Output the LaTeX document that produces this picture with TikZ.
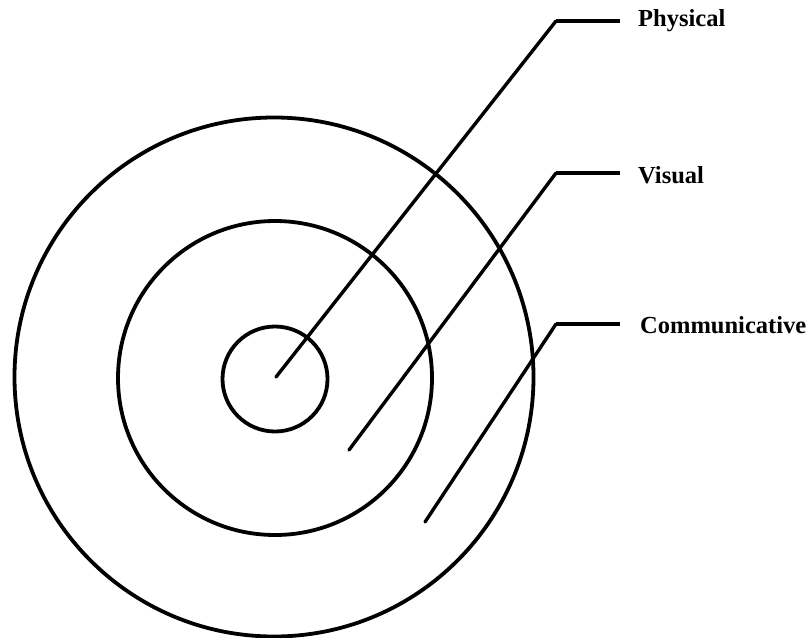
\documentclass[tikz,border=0pt]{standalone}
\usepackage{fontspec}
\setmainfont{Liberation Serif}
\usepackage{xcolor}
\usetikzlibrary{positioning}
\definecolor{ringInk}{RGB}{0,0,0}
\tikzset{
  ring/.style={draw=ringInk, line width=3.8pt},
  leader/.style={draw=ringInk, line width=3.4pt, line cap=round},
  shelf/.style={draw=ringInk, line width=4.6pt},
  tag/.style={text=ringInk, anchor=base west, inner sep=0pt, font=\fontsize{24.5}{29}\selectfont\bfseries}
}
\begin{document}
\begin{tikzpicture}[x=1pt,y=-1pt]
\useasboundingbox (0,0) rectangle (808,637);
\coordinate (centre) at (274,377);
\draw[ring] (centre) circle[radius=259.5pt];
\draw[ring] (275,378) circle[radius=157pt];
\draw[ring] (275,379) circle[radius=52.5pt];
\coordinate (physEnd) at (276,377);
\coordinate (physBend) at (556,21);
\coordinate (physTip) at (620,21);
\node[tag] (physLabel) at (638,27) {Physical};
\coordinate (visEnd) at (349,450);
\coordinate (visBend) at (556,173);
\coordinate (visTip) at (620,173);
\node[tag] (visLabel) at (638,183) {Visual};
\coordinate (comEnd) at (425,522);
\coordinate (comBend) at (556,324);
\coordinate (comTip) at (620,324);
\node[tag] (comLabel) at (640,333) {Communicative};
\draw[leader] (physEnd) -- (physBend);
\draw[shelf] (physBend) -- (physTip);
\draw[leader] (visEnd) -- (visBend);
\draw[shelf] (visBend) -- (visTip);
\draw[leader] (comEnd) -- (comBend);
\draw[shelf] (comBend) -- (comTip);
\end{tikzpicture}
\end{document}
